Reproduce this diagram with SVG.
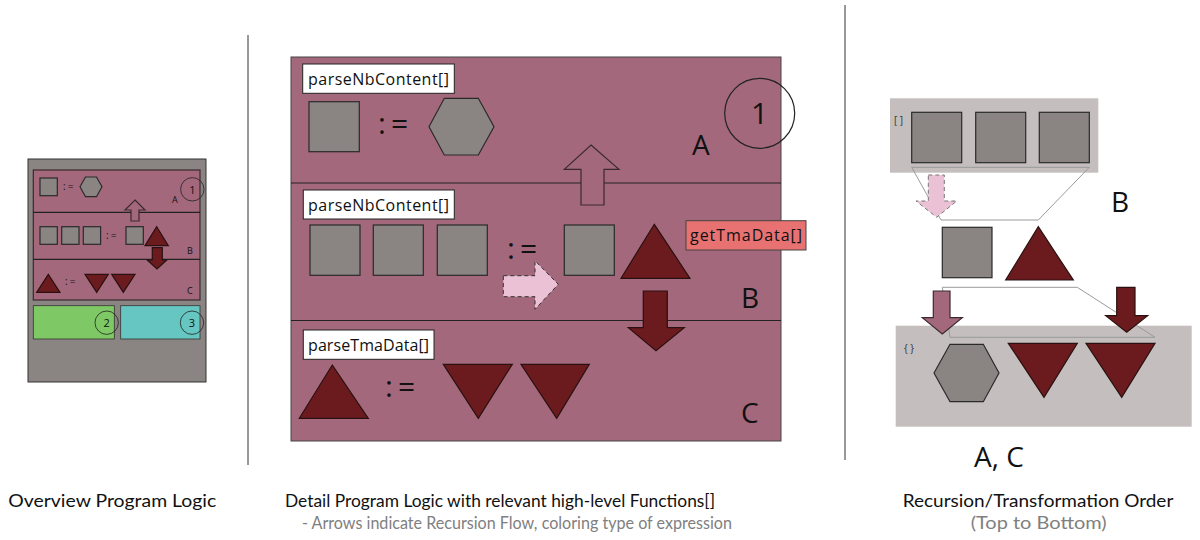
<svg xmlns="http://www.w3.org/2000/svg" width="1200" height="540" viewBox="0 0 1200 540">
<style>
text{font-family:"Open Sans","Noto Sans","Liberation Sans",sans-serif;fill:#111}
.sq{fill:#8a8583;stroke:#2a2a2a;stroke-width:1.2}
.hex{fill:#8a8583;stroke:#2a2a2a;stroke-width:1.2}
.tri{fill:#6b1b1e;stroke:#2a1010;stroke-width:1.2}
.pur{fill:#a3687c;stroke:#3a2a30;stroke-width:1.2}
.lbl{fill:#fff;stroke:#222;stroke-width:1}
.div{stroke:#222;stroke-width:1.2;fill:none}
.cap{font-family:Lato,"Open Sans",sans-serif;font-size:17.5px}
.sub{font-family:Lato,"Open Sans",sans-serif;font-size:17.5px;fill:#808080}
.big{font-size:28px}
.asg{font-size:30px;letter-spacing:5px}
.lg{fill:#c4bfbe}
.trap{fill:none;stroke:#9a9a9a;stroke-width:1}
.sm{font-size:10px;fill:#333}
</style>

<!-- separators -->
<line x1="248" y1="35" x2="248" y2="465" stroke="#333" stroke-width="1"/>
<line x1="845" y1="5" x2="845" y2="460" stroke="#333" stroke-width="1"/>

<!-- Overview -->
<g id="overview">
  <rect x="28" y="159" width="178" height="223" fill="#8a8582" stroke="#333" stroke-width="1"/>
  <rect x="33.3" y="170" width="166.7" height="130" class="pur" stroke-width="1"/>
  <line x1="33.3" y1="212.3" x2="200" y2="212.3" class="div" stroke-width="0.8"/>
  <line x1="33.3" y1="259.3" x2="200" y2="259.3" class="div" stroke-width="0.8"/>
  <rect x="40" y="178" width="17.3" height="17.7" class="sq" stroke-width="0.8"/>
  <text x="63" y="190" font-size="10" letter-spacing="2">:=</text>
  <polygon points="80,186.8 85.5,177 96.5,177 102,186.8 96.5,196.7 85.5,196.7" class="hex" stroke-width="0.8"/>
  <circle cx="192.3" cy="189.3" r="11.7" fill="none" stroke="#222" stroke-width="0.8"/>
  <text x="192.3" y="193.5" font-size="11" text-anchor="middle">1</text>
  <text x="172" y="202.7" font-size="9">A</text>
  <rect x="40" y="226.7" width="17.3" height="17.6" class="sq" stroke-width="0.8"/>
  <rect x="61.7" y="226.7" width="17.3" height="17.6" class="sq" stroke-width="0.8"/>
  <rect x="83.3" y="226.7" width="17.3" height="17.6" class="sq" stroke-width="0.8"/>
  <text x="106" y="239" font-size="10" letter-spacing="2">:=</text>
  <rect x="126" y="226.7" width="17.3" height="17.6" class="sq" stroke-width="0.8"/>
  <polygon points="156.7,226.7 168.3,245.7 145,245.7" class="tri" stroke-width="0.8"/>
  <text x="187" y="254" font-size="9">B</text>
  <polygon points="36.7,292.3 48.3,274.3 60,292.3" class="tri" stroke-width="0.8"/>
  <text x="65" y="285" font-size="10" letter-spacing="2">:=</text>
  <polygon points="85,274.3 108.3,274.3 96.7,292.3" class="tri" stroke-width="0.8"/>
  <polygon points="111.7,274.3 135,274.3 123.3,292.3" class="tri" stroke-width="0.8"/>
  <text x="187" y="293.5" font-size="9">C</text>
  <rect x="33.3" y="305.7" width="81" height="33.3" fill="#7ec866" stroke="#333" stroke-width="0.8"/>
  <circle cx="106.7" cy="322.7" r="11.7" fill="none" stroke="#222" stroke-width="0.8"/>
  <text x="106.7" y="326.8" font-size="11" text-anchor="middle">2</text>
  <rect x="120.7" y="305.7" width="79.3" height="33.3" fill="#66c6c2" stroke="#333" stroke-width="0.8"/>
  <circle cx="192" cy="322.7" r="11.7" fill="none" stroke="#222" stroke-width="0.8"/>
  <text x="192" y="326.8" font-size="11" text-anchor="middle">3</text>
</g>

<!-- Detail panel -->
<g id="detail-bg">
  <rect x="291" y="57" width="490" height="384" fill="#a3687c" stroke="#444" stroke-width="1"/>
  <line x1="291" y1="183" x2="781" y2="183" class="div"/>
  <line x1="291" y1="320.5" x2="781" y2="320.5" class="div"/>
</g>

<g id="rowA">
  <rect x="302.7" y="64" width="151.6" height="29.3" class="lbl"/>
  <text x="308" y="84.5" font-size="16" textLength="141">parseNbContent[]</text>
  <rect x="309" y="101.7" width="50.3" height="50" class="sq"/>
  <text x="378" y="134" class="asg">:=</text>
  <polygon points="429,126.7 444.3,98.3 478.3,98.3 494,126.7 478.3,155 444.3,155" class="hex"/>
  <text x="692" y="155" class="big">A</text>
  <circle cx="759.7" cy="113.3" r="35" fill="none" stroke="#222" stroke-width="1.2"/>
  <text x="759.7" y="124" font-size="30" text-anchor="middle">1</text>
</g>

<g id="rowB">
  <rect x="303.3" y="190" width="151" height="29" class="lbl"/>
  <text x="308" y="210.5" font-size="16" textLength="141">parseNbContent[]</text>
  <rect x="310" y="225" width="50" height="50.3" class="sq"/>
  <rect x="373.3" y="225" width="50" height="50.3" class="sq"/>
  <rect x="437.3" y="225" width="50" height="50.3" class="sq"/>
  <text x="507" y="259" class="asg">:=</text>
  <rect x="564.3" y="225" width="50" height="50.3" class="sq"/>
  <polygon points="654.3,224.3 690,278.3 621,278.3" class="tri"/>
  <text x="741" y="308.3" class="big">B</text>
</g>

<g id="getTmaData">
  <rect x="686" y="220.7" width="120" height="29.3" fill="#e87171" stroke="#444" stroke-width="1"/>
  <text x="690" y="241" font-size="16" textLength="112">getTmaData[]</text>
</g>

<g id="rowC">
  <rect x="303.3" y="330" width="130.7" height="29.3" class="lbl"/>
  <text x="308" y="350.5" font-size="16" textLength="121">parseTmaData[]</text>
  <polygon points="332.3,365 368.3,418.3 299.3,418.3" class="tri"/>
  <text x="385" y="397" class="asg">:=</text>
  <polygon points="443.3,364.3 512.3,364.3 478.3,418.3" class="tri"/>
  <polygon points="521,364.3 589.3,364.3 556.7,418.3" class="tri"/>
  <text x="741" y="423.3" class="big">C</text>
</g>

<!-- Right panel -->
<g id="list-box">
  <rect x="890" y="98.3" width="208.3" height="74.4" class="lg"/>
  <text x="894" y="124" class="sm">[ ]</text>
  <rect x="911.7" y="112.3" width="50" height="50.4" class="sq"/>
  <rect x="975.7" y="112.3" width="50" height="50.4" class="sq"/>
  <rect x="1039.3" y="112.3" width="50" height="50.4" class="sq"/>
</g>
<text x="1111" y="212.3" class="big">B</text>
<g id="b-result">
  <rect x="942.3" y="227.3" width="49.7" height="50.4" class="sq"/>
  <polygon points="1038.3,226.7 1073.3,280 1005.7,280" class="tri"/>
</g>
<g id="dict-box">
  <rect x="895.7" y="325.7" width="296" height="101" class="lg"/>
  <text x="904" y="352" class="sm">{ }</text>
  <polygon points="934,373 950,344.3 983.3,344.3 999,373 983.3,401.7 950,401.7" class="hex"/>
  <polygon points="1008.3,343.3 1077.3,343.3 1044,397.3" class="tri"/>
  <polygon points="1086,343.3 1155,343.3 1121.7,397.3" class="tri"/>
</g>
<text x="974" y="467" class="big">A, C</text>

<!-- connectors -->
<g id="connectors">
  <polygon points="911.7,167.3 1089.3,167.3 1038.3,220 941,220" class="trap"/>
  <polygon points="942.3,287.3 1077.3,287.3 1155,337.3 950,337.3" class="trap"/>
  <!-- overview arrows -->
  <path d="M135,200 L145,210 L139,210 L139,221 L131,221 L131,210 L125,210 Z" class="pur" stroke-width="0.8"/>
  <path d="M152.3,247.7 L162.3,247.7 L162.3,260 L166.7,260 L157,269 L147.3,260 L152.3,260 Z" class="tri" stroke-width="0.8"/>
  <!-- detail arrows -->
  <path d="M591,145 L619,169.3 L604,169.3 L604,205 L581,205 L581,169.3 L564.3,169.3 Z" class="pur"/>
  <path d="M503.3,275.7 L535,275.7 L535,260.7 L558.3,284.3 L535,309.3 L535,296.7 L503.3,296.7 Z" fill="#ebc1d5" stroke="#333" stroke-width="1" stroke-dasharray="4 3"/>
  <path d="M643.3,291 L667.3,291 L667.3,327.7 L684.3,327.7 L656,350.7 L628.3,327.7 L643.3,327.7 Z" class="tri"/>
  <!-- right arrows -->
  <path d="M928.3,175 L944.3,175 L944.3,201 L956.7,201 L936.7,217.3 L916,201 L928.3,201 Z" fill="#ebc1d5" stroke="#777" stroke-width="1" stroke-dasharray="4 3"/>
  <path d="M933.3,291 L950,291 L950,317.7 L962.3,317.7 L942.3,334 L922.3,317.7 L933.3,317.7 Z" class="pur"/>
  <path d="M1116.7,287.3 L1135,287.3 L1135,315.7 L1147.7,315.7 L1126.7,332.3 L1105.7,315.7 L1116.7,315.7 Z" class="tri"/>
</g>

<!-- captions -->
<g id="captions">
  <text x="8.3" y="507" class="cap" textLength="208" lengthAdjust="spacingAndGlyphs">Overview Program Logic</text>
  <text x="285" y="507" class="cap" textLength="430" lengthAdjust="spacingAndGlyphs">Detail Program Logic with relevant high-level Functions[]</text>
  <text x="302" y="529" class="sub" textLength="430" lengthAdjust="spacingAndGlyphs">- Arrows indicate Recursion Flow, coloring type of expression</text>
  <text x="902.7" y="507" class="cap" textLength="270.6" lengthAdjust="spacingAndGlyphs">Recursion/Transformation Order</text>
  <text x="970.7" y="529" class="sub" textLength="136" lengthAdjust="spacingAndGlyphs">(Top to Bottom)</text>
</g>
</svg>
